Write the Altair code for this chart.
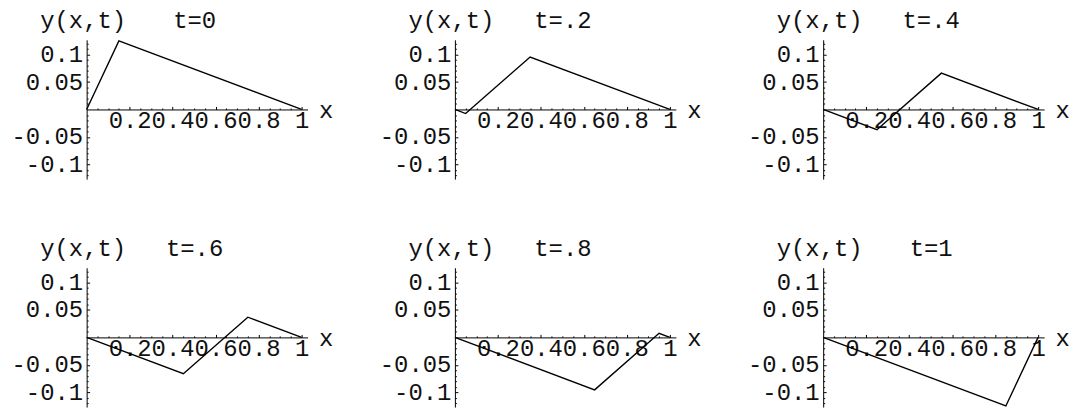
import altair as alt
import pandas as pd

# ---- data ----
T_LABELS = ["t=0", "t=.2", "t=.4", "t=.6", "t=.8", "t=1"]
X_VERTS = [
    [0.0, 0.15, 1.0],
    [0.0, 0.05, 0.35, 1.0],
    [0.0, 0.25, 0.55, 1.0],
    [0.0, 0.45, 0.75, 1.0],
    [0.0, 0.65, 0.95, 1.0],
    [0.0, 0.85, 1.0],
]
Y_VERTS = [
    [0.0, 0.125, 0.0],
    [0.0, -0.0074, 0.0956, 0.0],
    [0.0, -0.0368, 0.0662, 0.0],
    [0.0, -0.0662, 0.0368, 0.0],
    [0.0, -0.0956, 0.0074, 0.0],
    [0.0, -0.125, 0.0],
]
X_MAJOR = [0.2, 0.4, 0.6, 0.8, 1]
X_MINOR = [0.05, 0.1, 0.15, 0.25, 0.3, 0.35, 0.45, 0.5, 0.55,
           0.65, 0.7, 0.75, 0.85, 0.9, 0.95]
Y_MAJOR = [-0.1, -0.05, 0.05, 0.1]
Y_MINOR = [-0.12, -0.11, -0.09, -0.08, -0.07, -0.06, -0.04, -0.03, -0.02, -0.01,
           0.01, 0.02, 0.03, 0.04, 0.06, 0.07, 0.08, 0.09, 0.11, 0.12]
X_DOMAIN = [0, 1.028]
Y_DOMAIN = [-0.127, 0.127]
Y_TITLE = "y(x,t)"
X_TITLE = "x"

# ---- layout / style ----
W, H = 222, 140
FONT = "Liberation Mono"
FS = 24
TXT = "#111111"


def panel(i):
    df = pd.DataFrame({"x": X_VERTS[i], "y": Y_VERTS[i]})
    xs = alt.Scale(domain=X_DOMAIN, nice=False, zero=False)
    ys = alt.Scale(domain=Y_DOMAIN, nice=False, zero=False)
    common = dict(grid=False, domainColor="black", tickColor="black",
                  labelColor=TXT, labelFont=FONT, labelFontSize=FS,
                  titleFont=FONT, titleFontSize=FS, titleFontWeight="normal",
                  titleColor=TXT)
    x_major = alt.Axis(orient="top", offset=-H / 2, values=X_MAJOR, tickSize=3,
                       domain=True, domainWidth=1, tickWidth=1,
                       labelBaseline="alphabetic", labelAlign="center",
                       labelPadding=-21, labelOverlap=False, labelFlush=False,
                       labelBound=False, labelExpr="'' + datum.value",
                       title=X_TITLE, titleX=W + 11, titleY=8, titleAlign="left",
                       titleBaseline="alphabetic", titleAngle=0, **common)
    x_minor = alt.Axis(orient="top", offset=-H / 2, values=X_MINOR, tickSize=1.5,
                       tickWidth=1, domain=False, labels=False, title=None,
                       **common)
    y_major = alt.Axis(orient="right", offset=-W, values=Y_MAJOR, tickSize=3,
                       domain=True, domainWidth=1, tickWidth=1,
                       labelAlign="right", labelBaseline="middle",
                       labelPadding=-7, labelOverlap=False, labelFlush=False,
                       labelBound=False, labelExpr="'' + datum.value",
                       title=Y_TITLE, titleAngle=0, titleX=-4, titleY=-12,
                       titleAlign="center", titleBaseline="alphabetic", **common)
    y_minor = alt.Axis(orient="right", offset=-W, values=Y_MINOR, tickSize=1.5,
                       tickWidth=1, domain=False, labels=False,
                       title=T_LABELS[i], titleAngle=0, titleX=108, titleY=-12,
                       titleAlign="center", titleBaseline="alphabetic", **common)
    base = alt.Chart(df)
    minor = base.mark_line(strokeOpacity=0).encode(
        x=alt.X("x:Q", scale=xs, axis=x_minor),
        y=alt.Y("y:Q", scale=ys, axis=y_minor),
    )
    line = base.mark_line(color="black", strokeWidth=1.4).encode(
        x=alt.X("x:Q", scale=xs, axis=x_major),
        y=alt.Y("y:Q", scale=ys, axis=y_major),
    )
    return (alt.layer(minor, line)
            .resolve_axis(x="independent", y="independent")
            .properties(width=W, height=H))


panels = [panel(i) for i in range(6)]
chart = (alt.concat(*panels, columns=3, spacing={"row": 89, "column": 148},
                    bounds="flush")
         .properties(padding={"left": 2, "top": 0, "right": 0, "bottom": 0},
                     background="white")
         .configure(font=FONT)
         .configure_view(strokeWidth=0, strokeOpacity=0))

chart.save("out.html", embed_options={"renderer": "svg", "actions": False})
